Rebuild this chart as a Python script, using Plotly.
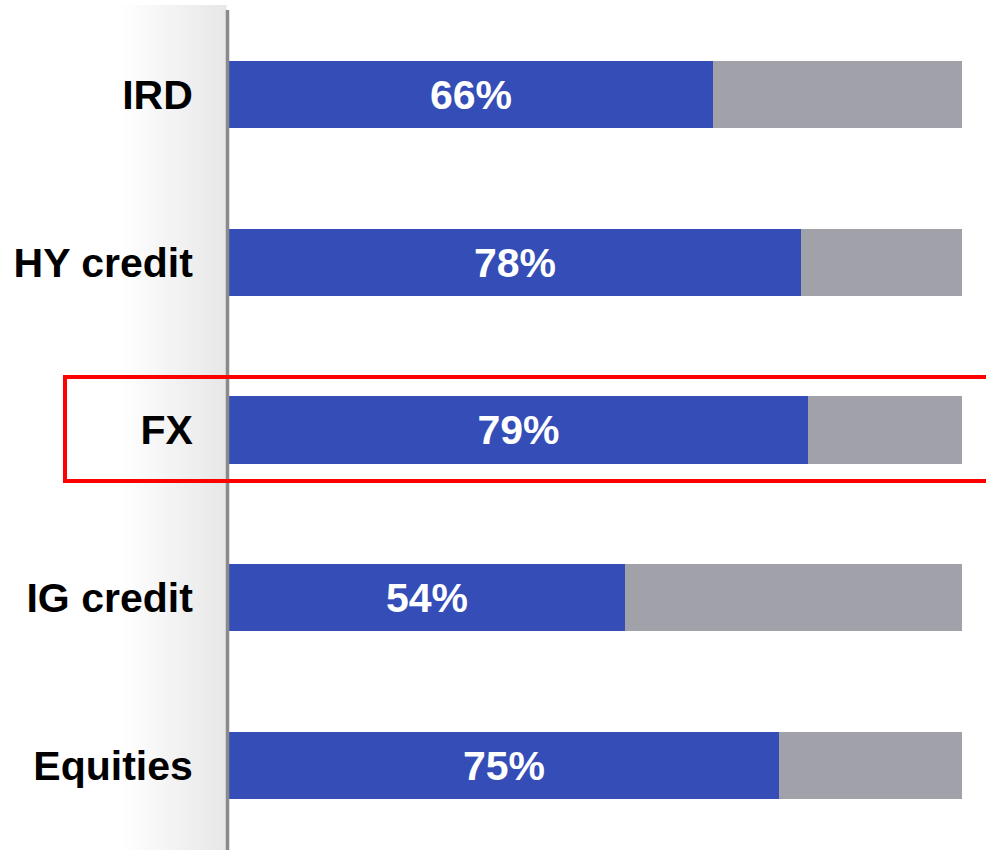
import plotly.graph_objects as go

# Share of volume by asset class (percent)
categories = ["IRD", "HY credit", "FX", "IG credit", "Equities"]
share = [66, 78, 79, 54, 75]
remainder = [100 - v for v in share]
share_labels = [f"{v}%" for v in share]

W, H = 986, 850
L, R, T, B = 229, 24, 11, 1
PW, PH = W - L - R, H - T - B

BLUE = "#344DB7"
GREY = "#A1A1A9"
FONT = "Liberation Sans"


def px_x(px):
    return (px - L) / PW


def px_y(py):
    return 1 - (py - T) / PH


fig = go.Figure()
fig.add_trace(go.Bar(
    y=categories, x=share, orientation="h", marker=dict(color=BLUE, line=dict(width=0)),
    text=share_labels, textposition="inside", insidetextanchor="middle",
    textfont=dict(family=FONT, size=41, color="white", weight="bold"),
    hoverinfo="skip", width=0.4,
))
fig.add_trace(go.Bar(
    y=categories, x=remainder, orientation="h", marker=dict(color=GREY, line=dict(width=0)),
    hoverinfo="skip", width=0.4,
))

shapes = []
# soft shaded panel behind the category labels
g0, g1, steps = 120, 226, 53
sw = (g1 - g0) / steps
for i in range(steps):
    t = (i + 0.5) / steps
    c = round(255 - (255 - 231) * t)
    shapes.append(dict(
        type="rect", xref="paper", yref="paper",
        x0=px_x(g0 + i * sw), x1=px_x(g0 + (i + 1) * sw + 0.6),
        y0=px_y(H), y1=px_y(5),
        fillcolor=f"rgb({c},{c},{c})", line=dict(width=0), layer="below",
    ))
# vertical axis rule
shapes.append(dict(
    type="line", xref="paper", yref="paper",
    x0=px_x(227.5), x1=px_x(227.5), y0=px_y(10), y1=px_y(H),
    line=dict(color="#8A8A8A", width=3.5), layer="above",
))
# highlight box around FX
shapes.append(dict(
    type="rect", xref="paper", yref="paper",
    x0=px_x(65), x1=px_x(1010), y0=px_y(481), y1=px_y(377),
    line=dict(color="#FF0000", width=4), fillcolor="rgba(0,0,0,0)", layer="above",
))

fig.update_layout(
    width=W, height=H, barmode="stack", showlegend=False,
    margin=dict(l=L, r=R, t=T, b=B, pad=0),
    paper_bgcolor="white", plot_bgcolor="white",
    shapes=shapes, bargap=0,
    xaxis=dict(range=[0, 100], visible=False, fixedrange=True),
    yaxis=dict(
        categoryorder="array", categoryarray=categories,
        range=[4.5, -0.5], showgrid=False, zeroline=False, showline=False,
        ticks="outside", ticklen=27, tickcolor="rgba(0,0,0,0)",
        tickfont=dict(family=FONT, size=41, color="black", weight="bold"),
        fixedrange=True,
    ),
)

fig.write_html("out.html")
